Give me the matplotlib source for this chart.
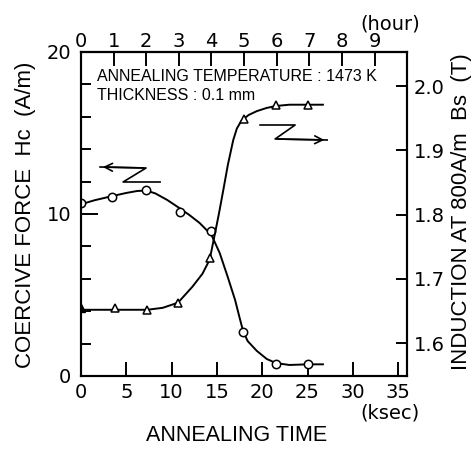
import numpy as np
import matplotlib.pyplot as plt
from matplotlib.ticker import MultipleLocator

# coercive force Hc (A/m) vs annealing time (ksec)
t_hc = [0, 3.4, 7.2, 10.9, 14.3, 17.9, 21.5, 25.0]
hc = [10.7, 11.05, 11.5, 10.1, 8.95, 2.7, 0.75, 0.75]
# hand drawn curve through the Hc points
t_hc_line = [0, 1.5, 3.4, 5.0, 6.2, 7.2, 8.2, 9.5, 10.9, 12.0, 13.1, 14.4, 15.3,
             16.2, 17.0, 17.5, 17.9, 18.4, 19.4, 20.5, 21.5, 23.0, 25.0, 26.7]
hc_line = [10.6, 10.85, 11.1, 11.3, 11.42, 11.45, 11.27, 10.87, 10.35, 9.92, 9.44, 8.7, 7.6,
           6.1, 4.7, 3.6, 2.75, 2.15, 1.55, 1.05, 0.8, 0.68, 0.72, 0.72]

# induction at 800 A/m, Bs (T)
t_bs = [0, 3.7, 7.3, 10.7, 14.2, 18.0, 21.5, 25.0]
bs = [1.654, 1.654, 1.651, 1.662, 1.732, 1.948, 1.970, 1.970]
t_bs_line = [0, 3.7, 7.3, 9.0, 10.7, 12.3, 13.4, 14.2, 14.7, 15.2, 15.7, 16.2, 16.8,
             17.2, 17.7, 18.5, 19.4, 20.5, 21.5, 23.0, 25.0, 26.7]
bs_line = [1.652, 1.652, 1.652, 1.655, 1.663, 1.688, 1.708, 1.730, 1.765, 1.80, 1.838, 1.877, 1.916,
           1.934, 1.946, 1.955, 1.961, 1.966, 1.969, 1.971, 1.971, 1.971]

hours = [0, 1, 2, 3, 4, 5, 6, 7, 8, 9]

narrow = ['Liberation Sans', 'DejaVu Sans']
plt.rcParams['font.family'] = ['DejaVu Sans']

fig = plt.figure(figsize=(4.74, 4.49), dpi=100)
ax = fig.add_axes([0.171, 0.1626, 0.688, 0.7216])
ax2 = ax.twinx()

ax.plot(t_hc_line, hc_line, color='black', lw=1.4)
ax.plot(t_hc, hc, 'o', ms=6, mfc='white', mec='black', mew=1.1)

ax2.plot(t_bs_line, bs_line, color='black', lw=1.4)
ax2.plot(t_bs[1:], bs[1:], '^', ms=6, mfc='white', mec='black', mew=1.1)
ax2.plot(t_bs[:1], bs[:1], '^', ms=6, mfc='black', mec='black')

ax.set_xlim(0, 36)
ax.set_ylim(0, 20)
ax2.set_ylim(1.549, 2.053)

ax.set_xticks([0, 5, 10, 15, 20, 25, 30, 35])
ax.set_yticks([0, 10, 20])
ax.yaxis.set_minor_locator(MultipleLocator(2))
ax2.set_yticks([1.6, 1.7, 1.8, 1.9, 2.0])
ax2.set_yticklabels(['1.6', '1.7', '1.8', '1.9', '2.0'])

ax.tick_params(axis='x', direction='in', length=10, width=1.4, labelsize=14, pad=5, top=False)
ax.tick_params(axis='y', which='major', direction='in', length=12, width=1.4, labelsize=14, pad=7)
ax.tick_params(axis='y', which='minor', direction='in', length=7, width=1.4)
ax2.tick_params(axis='y', direction='in', length=8, width=1.4, labelsize=14, pad=5)

for a in (ax, ax2):
    for s in a.spines.values():
        s.set_linewidth(1.5)

top = ax.secondary_xaxis('top', functions=(lambda x: x / 3.6, lambda h: h * 3.6))
top.set_xticks(hours)
top.tick_params(direction='in', length=10, width=1.4, labelsize=14, pad=1)
top.spines['top'].set_linewidth(1.5)

ax.text(0.049, 0.923, 'ANNEALING TEMPERATURE : 1473 K', transform=ax.transAxes,
        fontsize=11.5, family=narrow, va='center', ha='left')
ax.text(0.049, 0.867, 'THICKNESS : 0.1 mm', transform=ax.transAxes,
        fontsize=11.5, family=narrow, va='center', ha='left')

# Z shaped arrows (axes fraction)
def zarrow(pts, head_at_start):
    xs = [(p[0] - 81) / 326 for p in pts]
    ys = [(376 - p[1]) / 324 for p in pts]
    ax.plot(xs, ys, color='black', lw=1.2, transform=ax.transAxes, clip_on=False)
    if head_at_start:
        ax.annotate('', xy=(xs[0], ys[0]), xytext=(xs[1], ys[1]),
                    xycoords='axes fraction', textcoords='axes fraction',
                    arrowprops=dict(arrowstyle='->', lw=1.2, mutation_scale=14))
    else:
        ax.annotate('', xy=(xs[-1], ys[-1]), xytext=(xs[-2], ys[-2]),
                    xycoords='axes fraction', textcoords='axes fraction',
                    arrowprops=dict(arrowstyle='->', lw=1.2, mutation_scale=14))

zarrow([(100, 167), (146, 168), (123, 182), (160, 182)], True)
zarrow([(260, 125), (295, 125), (275, 139), (327, 140)], False)

fig.text(0.053, 0.521, 'COERCIVE FORCE  Hc  (A/m)', rotation=90, ha='center', va='center',
         fontsize=16, family=narrow)
fig.text(0.973, 0.528, 'INDUCTION AT 800A/m  Bs  (T)', rotation=90, ha='center', va='center',
         fontsize=16, family=narrow)
fig.text(0.5, 0.031, 'ANNEALING TIME', ha='center', va='center', fontsize=15.5, family=narrow)
fig.text(0.823, 0.080, '(ksec)', ha='center', va='center', fontsize=14)
fig.text(0.823, 0.947, '(hour)', ha='center', va='center', fontsize=14)

fig.savefig('out.png', dpi=100)
